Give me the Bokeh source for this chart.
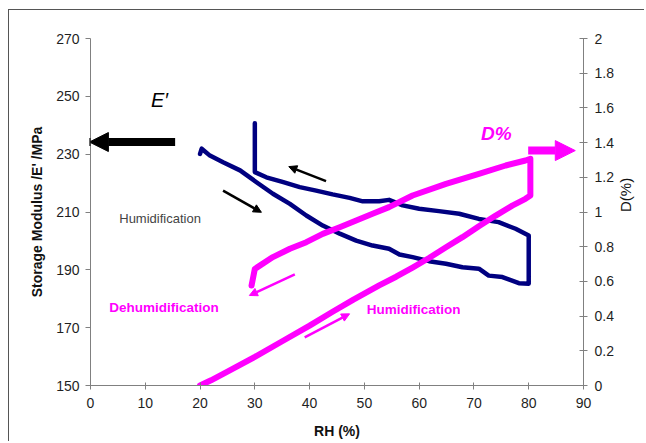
import math
from bokeh.plotting import figure
from bokeh.models import Range1d, LinearAxis, FixedTicker, Arrow, NormalHead, Label, CustomJSTickFormatter
from bokeh.embed import file_html
from bokeh.resources import INLINE

# ---- data ----
x_ticks = [0, 10, 20, 30, 40, 50, 60, 70, 80, 90]
e_ticks = [150, 170, 190, 210, 230, 250, 270]
d_ticks = [0, 0.2, 0.4, 0.6, 0.8, 1.0, 1.2, 1.4, 1.6, 1.8, 2.0]

# Storage modulus E' (MPa) vs RH (%)
rh_e = [20.0, 20.3, 21.8, 24.2, 27.3, 30.3, 33.3, 36.4, 39.4, 42.4, 45.5, 48.5,
        51.5, 54.5, 56.4, 58.8, 61.8, 64.9, 67.9, 70.9, 72.7, 75.2, 78.2, 80.0,
        80.0, 80.0, 77.6, 74.5, 70.9, 67.3, 63.6, 60.0, 57.0, 54.5, 52.7, 49.7,
        47.3, 44.2, 41.2, 38.2, 35.2, 32.1, 30.0, 30.0]
e_mod = [230.1, 231.9, 229.5, 227.2, 224.4, 220.3, 216.3, 212.8, 208.8, 205.3, 202.5, 200.1,
         198.4, 197.3, 195.3, 194.4, 193.0, 192.1, 190.9, 190.4, 188.0, 187.5, 185.4, 185.2,
         193.0, 201.9, 204.2, 206.5, 207.6, 209.4, 210.3, 211.1, 212.3, 214.2, 213.7, 213.7,
         214.9, 216.1, 217.4, 218.6, 220.3, 222.0, 223.8, 240.7]

# Dimensional change D (%) vs RH (%)
rh_d = [20.0, 22.0, 25.0, 30.0, 35.0, 40.0, 44.2, 48.0, 52.7, 55.8, 58.8, 61.8,
        64.9, 67.9, 70.9, 73.9, 77.0, 79.4, 80.3, 80.3, 79.4, 75.8, 70.9, 64.9,
        58.8, 54.5, 51.5, 48.5, 45.5, 42.4, 39.4, 36.4, 33.3, 30.0, 29.4]
d_pct = [0.0, 0.03, 0.08, 0.165, 0.255, 0.345, 0.425, 0.495, 0.577, 0.627, 0.68, 0.735,
         0.797, 0.855, 0.918, 0.978, 1.037, 1.076, 1.095, 1.307, 1.297, 1.268, 1.22, 1.162,
         1.095, 1.028, 0.99, 0.951, 0.912, 0.874, 0.826, 0.788, 0.74, 0.672, 0.576]

BLUE = "#000080"
MAG = "#FF00FF"
AX = "#808080"
TXT = "#1f1f1f"
FONT = "Liberation Sans"

p = figure(width=636, height=432, x_range=Range1d(0, 90), y_range=Range1d(150, 270),
           output_backend="svg", toolbar_location=None,
           min_border_left=81, min_border_right=60, min_border_top=28, min_border_bottom=57)
p.extra_y_ranges = {"D": Range1d(0, 2)}
p.styles = {"margin-left": "8px", "margin-top": "9px",
            "border-left": "1px solid #555", "border-top": "1px solid #555"}
p.outline_line_color = None
p.xgrid.visible = False
p.ygrid.visible = False

def style_axis(ax, tin, tout, standoff):
    ax.axis_line_color = AX
    ax.major_tick_line_color = AX
    ax.minor_tick_line_color = None
    ax.major_tick_in = tin
    ax.major_tick_out = tout
    ax.major_label_standoff = standoff
    ax.major_label_text_font = FONT
    ax.major_label_text_font_size = "14px"
    ax.major_label_text_color = TXT
    ax.axis_label_text_font = FONT
    ax.axis_label_text_color = "#111111"

xa = p.xaxis[0]
xa.ticker = FixedTicker(ticks=x_ticks)
style_axis(xa, 3, 4, 8)
xa.axis_label = "RH (%)"
xa.axis_label_text_font_style = "bold"
xa.axis_label_text_font_size = "14px"
xa.axis_label_standoff = 12

ya = p.yaxis[0]
ya.ticker = FixedTicker(ticks=e_ticks)
style_axis(ya, 0, 5, 6)
ya.axis_label = "Storage Modulus /E' /MPa"
ya.axis_label_text_font_style = "bold"
ya.axis_label_text_font_size = "14px"
ya.axis_label_standoff = 8

ra = LinearAxis(y_range_name="D", ticker=FixedTicker(ticks=d_ticks),
                formatter=CustomJSTickFormatter(code="return (Math.round(tick*10)/10).toString();"))
style_axis(ra, 4, 4, 7)
ra.axis_label = "D(%)"
ra.axis_label_text_font_style = "normal"
ra.axis_label_text_font_size = "15px"
ra.axis_label_standoff = 9
ra.axis_label_orientation = math.pi / 2
p.add_layout(ra, "right")

# curves
p.line(rh_e, e_mod, line_color=BLUE, line_width=4.5, line_join="round", line_cap="round")
p.line(rh_d, d_pct, line_color=MAG, line_width=6, line_join="round", line_cap="round",
       y_range_name="D")

# big arrows
p.add_layout(Arrow(end=NormalHead(size=19, fill_color="black", line_color="black"),
                   x_start=15.45, y_start=234.2, x_end=-0.2, y_end=234.2,
                   line_color="black", line_width=8))
p.add_layout(Arrow(end=NormalHead(size=20, fill_color=MAG, line_color=MAG),
                   x_start=79.9, y_start=1.354, x_end=88.5, y_end=1.354,
                   line_color=MAG, line_width=8, y_range_name="D"))
# small arrows
p.add_layout(Arrow(end=NormalHead(size=8, fill_color="black", line_color="black"),
                   x_start=24.2, y_start=217.4, x_end=31.2, y_end=209.9,
                   line_color="black", line_width=2.5))
p.add_layout(Arrow(end=NormalHead(size=8, fill_color="black", line_color="black"),
                   x_start=43.0, y_start=220.7, x_end=36.2, y_end=225.7,
                   line_color="black", line_width=2.5))
p.add_layout(Arrow(end=NormalHead(size=8, fill_color=MAG, line_color=MAG),
                   x_start=37.3, y_start=0.64, x_end=29.0, y_end=0.519,
                   line_color=MAG, line_width=2.5, y_range_name="D"))
p.add_layout(Arrow(end=NormalHead(size=8, fill_color=MAG, line_color=MAG),
                   x_start=39.1, y_start=0.278, x_end=47.3, y_end=0.413,
                   line_color=MAG, line_width=2.5, y_range_name="D"))

# labels
p.add_layout(Label(x=12.6, y=248.6, text="E′", text_align="center", text_baseline="middle",
                   text_font=FONT, text_font_size="20px", text_font_style="italic",
                   text_color="black"))
p.add_layout(Label(x=12.7, y=207.6, text="Humidification", text_align="center",
                   text_baseline="middle", text_font=FONT, text_font_size="13px",
                   text_color="#444444"))
p.add_layout(Label(x=74.1, y=1.45, text="D%", text_align="center", text_baseline="middle",
                   text_font=FONT, text_font_size="19px", text_font_style="bold italic",
                   text_color=MAG, y_range_name="D"))
p.add_layout(Label(x=13.4, y=0.448, text="Dehumidification", text_align="center",
                   text_baseline="middle", text_font=FONT, text_font_size="13.5px",
                   text_font_style="bold", text_color=MAG, y_range_name="D"))
p.add_layout(Label(x=59.0, y=0.438, text="Humidification", text_align="center",
                   text_baseline="middle", text_font=FONT, text_font_size="13.5px",
                   text_font_style="bold", text_color=MAG, y_range_name="D"))

open("out.html", "w").write(file_html(p, INLINE))
